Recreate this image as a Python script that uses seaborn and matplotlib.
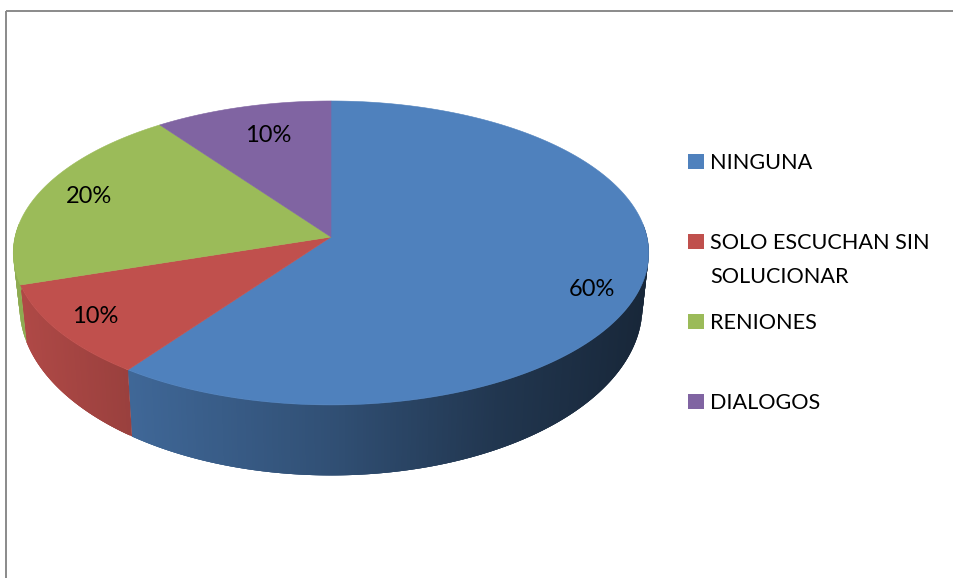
import numpy as np
import matplotlib
matplotlib.use("Agg")
import matplotlib.pyplot as plt
import seaborn as sns

# Survey shares, clockwise from twelve o'clock
categorias = ["NINGUNA", "SOLO ESCUCHAN SIN\nSOLUCIONAR", "RENIONES", "DIALOGOS"]
porcentajes = [60, 10, 20, 10]
colores = ["#4F81BD", "#C0504D", "#9BBB59", "#8064A2"]

# Pie geometry in canvas pixels (perspective disc with a thick rim)
CX, CY = 331, 237
RX, RY, PERSP = 316.0, 150.3, 0.105
BOTTOM_DROP, BOTTOM_SX, BOTTOM_SY = 52, 0.98, 1.11

# Nudges for the percentage labels and rows of the legend
label_nudges = [(14, 14), (-21, 5), (-8, -4), (10, 4)]
legend_rows = [162, 242, 322, 402]

sns.set_theme(style="white")
plt.rcParams["font.family"] = ["Lato", "DejaVu Sans"]
palette = sns.color_palette(colores)


def project(theta, r=1.0):
    """Map a clockwise angle (degrees from the top) on the disc to pixel offsets."""
    t = np.radians(theta)
    u, v = r * np.sin(t), r * np.cos(t)
    w = 1 + PERSP * v
    return RX * u / w, RY * v / w


def rim_shade(x):
    """Darkening of the rim from the lit left side to the dark right side."""
    return np.interp(x, [13, 130, 330, 500, 649], [0.92, 0.80, 0.62, 0.42, 0.30])


fig = plt.figure(figsize=(9.54, 5.78), dpi=100, facecolor="white")
ax = fig.add_axes([0, 0, 1, 1])
ax.set_xlim(0, 954)
ax.set_ylim(578, 0)
ax.axis("off")

# Outer chart frame: only the top and left edges fall on the canvas
ax.plot([6, 954], [10.5, 10.5], color="#8a8a8a", lw=1.4, solid_capstyle="butt")
ax.plot([6, 6], [10.5, 578], color="#8a8a8a", lw=1.4, solid_capstyle="butt")

edges = 360 * np.cumsum([0] + porcentajes) / sum(porcentajes)

# Rim: overlapping shaded strips, visible only along the front of the pie
for start, stop, color in zip(edges[:-1], edges[1:], palette):
    lo, hi = max(start, 85), min(stop, 275)
    if lo >= hi:
        continue
    steps = np.linspace(lo, hi, int(hi - lo) * 2 + 2)
    for i in range(len(steps) - 1):
        a, b = steps[i], steps[min(i + 3, len(steps) - 1)]
        xa, ya = project(a)
        xb, yb = project(b)
        quad_x = [CX + xa, CX + xb, CX + xb * BOTTOM_SX, CX + xa * BOTTOM_SX]
        quad_y = [CY - ya, CY - yb,
                  CY - yb * BOTTOM_SY + BOTTOM_DROP, CY - ya * BOTTOM_SY + BOTTOM_DROP]
        shade = rim_shade(CX + xa)
        tone = tuple(c * shade for c in color)
        ax.fill(quad_x, quad_y, color=tone, lw=0, zorder=2)

# Top face of the pie
for start, stop, color in zip(edges[:-1], edges[1:], palette):
    angles = np.linspace(start, stop, 200)
    px, py = project(angles)
    ax.fill(np.r_[CX, CX + px], np.r_[CY, CY - py], color=color, lw=0.4, zorder=3)

# Percentage labels
for start, stop, pct, (dx, dy) in zip(edges[:-1], edges[1:], porcentajes, label_nudges):
    lx, ly = project((start + stop) / 2, 0.8)
    ax.text(CX + lx + dx, CY - ly + dy, f"{pct}%", ha="center", va="center",
            fontsize=17, color="black", zorder=4)

# Legend
for name, color, row in zip(categorias, palette, legend_rows):
    ax.add_patch(plt.Rectangle((688, row - 8), 16, 14.5, facecolor=color, edgecolor="none"))
    ax.text(710, row - 9, name, ha="left", va="top",
            fontsize=15.6, color="black", linespacing=1.9)

fig.savefig("out.png", dpi=100, facecolor="white")
